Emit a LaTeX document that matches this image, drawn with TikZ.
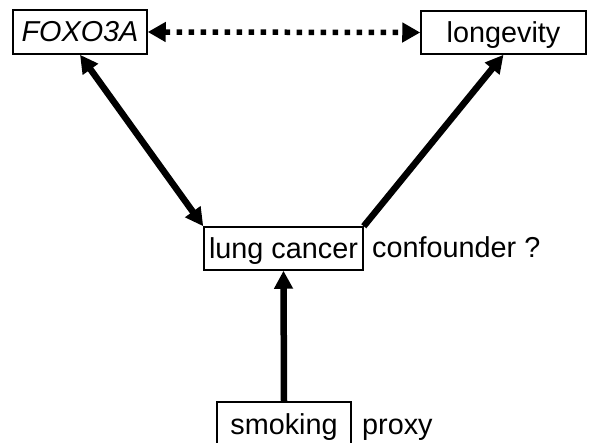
\documentclass[tikz,border=0pt]{standalone}
\usepackage{fontspec}
\setmainfont{Liberation Sans}
\usetikzlibrary{arrows.meta}
\begin{document}
\begin{tikzpicture}[x=1pt,y=-1pt,
  box/.style={draw,line width=1.5pt,inner sep=0pt,text height=20pt,text depth=0pt,
    font=\fontsize{28.8}{32}\selectfont},
  lbl/.style={anchor=base west,inner sep=0pt,font=\fontsize{28.8}{32}\selectfont},
  tip/.style={Triangle[length=18pt,width=18pt]},
  thick arrow/.style={line width=6.5pt,-{Triangle[length=18pt,width=18pt]}},
  double arrow/.style={line width=6.5pt,{Triangle[length=18pt,width=18pt]}-{Triangle[length=18pt,width=18pt]}},
  dotted arrow/.style={line width=5.5pt,dash pattern=on 5.5pt off 6.5pt,
    {Triangle[length=18pt,width=19pt]}-{Triangle[length=18pt,width=19pt]}}]
\useasboundingbox (0,0) rectangle (589,443);
\node[box,minimum width=134pt,minimum height=44pt] (fox) at (80,32) {\itshape FOXO3A};
\node[box,minimum width=165pt,minimum height=43pt] (lon) at (503.5,32.5) {longevity};
\node[box,minimum width=159pt,minimum height=43pt] (lc) at (283.5,248.5) {lung cancer};
\node[box,minimum width=134pt,minimum height=44pt] (smk) at (284,424) {smoking};
\node[lbl] (conf) at (372,258) {confounder ?};
\node[lbl] (proxy) at (362,435) {proxy};
\draw[dotted arrow] (fox.east) -- (lon.west);
\draw[double arrow] (fox.south) -- (lc.north west);
\draw[thick arrow] (lc.north east) -- (lon.south);
\draw[thick arrow] (smk.north) -- (lc.south);
\end{tikzpicture}
\end{document}
